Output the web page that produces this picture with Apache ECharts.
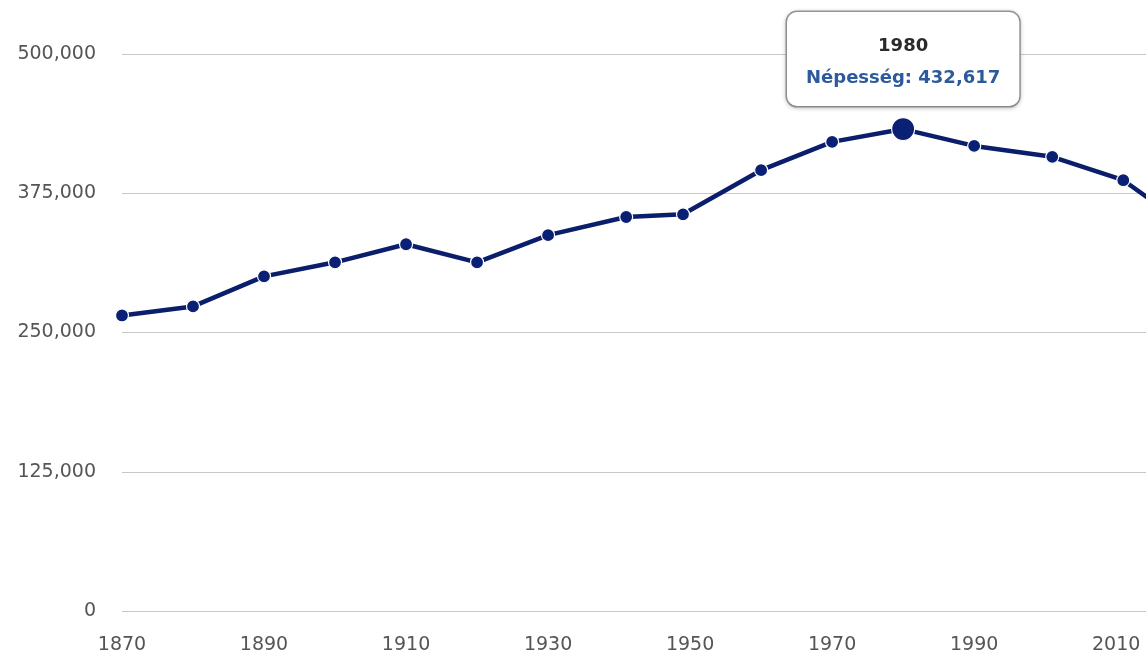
<!DOCTYPE html>
<html>
<head>
<meta charset="utf-8">
<script src="https://cdn.jsdelivr.net/npm/echarts@6/dist/echarts.min.js"></script>
<style>
html,body{margin:0;padding:0;background:#fff;}
#chart{width:1146px;height:659px;}
</style>
</head>
<body>
<div id="chart"></div>
<script>
const years = [1870,1880,1890,1900,1910,1920,1930,1941,1949,1960,1970,1980,1990,2001,2011,2016];
const population = [265300,273400,300400,313000,329200,313000,337400,353700,356100,395700,421100,432617,417500,407700,386700,364000];
const seriesName = 'Népesség';
const highlightYear = 1980;
const yTicks = [0,125000,250000,375000,500000];
const xTickLabels = [1870,1890,1910,1930,1950,1970,1990,2010];

const fmt = v => Number(v).toLocaleString('en-US');
const hiIdx = years.indexOf(highlightYear);

const data = years.map((y, i) => {
  const d = { value: [y, population[i]] };
  if (i === hiIdx) d.symbolSize = 23;
  return d;
});

const chart = echarts.init(document.getElementById('chart'));
chart.setOption({
  animation: false,
  backgroundColor: '#fff',
  grid: { left: 122, right: 0, top: 54, bottom: 48 },
  xAxis: {
    type: 'value',
    min: xTickLabels[0],
    max: 2014.2,
    interval: 20,
    axisLine: { show: false },
    axisTick: { show: false },
    splitLine: { show: false },
    axisLabel: {
      showMaxLabel: false,
      margin: 25,
      color: '#555',
      fontFamily: 'DejaVu Sans',
      fontSize: 19,
      formatter: v => String(v)
    }
  },
  yAxis: {
    type: 'value',
    min: yTicks[0],
    max: yTicks[yTicks.length - 1],
    interval: yTicks[1] - yTicks[0],
    axisLine: { show: false },
    axisTick: { show: false },
    splitLine: { lineStyle: { color: '#c8c8c8', width: 1 } },
    axisLabel: {
      margin: 26,
      color: '#555',
      fontFamily: 'DejaVu Sans',
      fontSize: 19,
      formatter: v => fmt(v)
    }
  },
  series: [{
    name: seriesName,
    type: 'line',
    data: data,
    clip: true,
    symbol: 'circle',
    symbolSize: 13,
    lineStyle: { color: '#0a1e6c', width: 4.5 },
    itemStyle: { color: '#0a2074', borderColor: '#fff', borderWidth: 1.2 },
    markPoint: {
      symbol: 'circle',
      symbolSize: 0.1,
      itemStyle: { color: 'rgba(0,0,0,0)' },
      data: [{ coord: [years[hiIdx], population[hiIdx]] }],
      label: {
        show: true,
        position: 'top',
        distance: 23,
        backgroundColor: '#fff',
        borderColor: '#9a9a9a',
        borderWidth: 1.5,
        borderRadius: 10,
        padding: [18, 19, 12, 19],
        shadowColor: 'rgba(0,0,0,0.18)',
        shadowBlur: 4,
        shadowOffsetY: 1,
        align: 'center',
        formatter: () => '{a|' + years[hiIdx] + '}\n{b|' + seriesName + ': ' + fmt(population[hiIdx]) + '}',
        rich: {
          a: { fontFamily: 'DejaVu Sans', fontWeight: 'bold', fontSize: 18, color: '#2a2a2a', lineHeight: 32, align: 'center' },
          b: { fontFamily: 'DejaVu Sans', fontWeight: 'bold', fontSize: 18, color: '#2c5a9c', lineHeight: 32, align: 'center' }
        }
      }
    }
  }]
});
</script>
</body>
</html>
